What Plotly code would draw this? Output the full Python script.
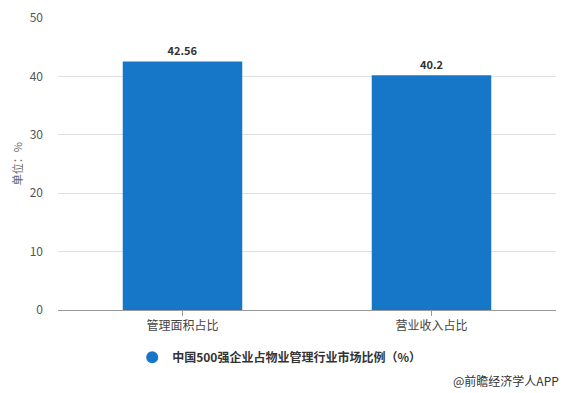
import plotly.graph_objects as go

categories = ["管理面积占比", "营业收入占比"]
values = [42.56, 40.2]
series_name = "中国500强企业占物业管理行业市场比例（%）"
y_title = "单位：%"
source_text = "@前瞻经济学人APP"

BLUE = "#1677c8"
FONT = "Noto Sans CJK SC, Microsoft YaHei, sans-serif"

fig = go.Figure()
fig.add_trace(go.Bar(
    x=categories, y=values, width=0.48,
    marker=dict(color=BLUE, line=dict(width=0)),
    text=[str(v) for v in values], textposition="outside",
    textfont=dict(family=FONT, size=11, color="#333333", weight="bold"),
    cliponaxis=False, showlegend=False,
))
fig.add_trace(go.Scatter(
    x=[None], y=[None], mode="markers", name=series_name,
    marker=dict(symbol="circle", size=12, color=BLUE), showlegend=True,
))

fig.update_layout(
    width=559, height=385,
    margin=dict(l=50, r=11, t=10, b=83, autoexpand=False),
    paper_bgcolor="white", plot_bgcolor="white",
    font=dict(family=FONT, size=12, color="#555555"),
    bargap=0.52,
    legend=dict(orientation="h", x=0.149, y=-0.162, xanchor="left", yanchor="middle",
                font=dict(family=FONT, size=12, color="#333333", weight="bold"),
                itemsizing="constant"),
    xaxis=dict(showline=True, linecolor="#999999", linewidth=1,
               ticks="outside", ticklen=5, tickcolor="#999999",
               tickfont=dict(size=12, color="#444444"), showgrid=False),
    yaxis=dict(range=[0, 50], dtick=10, showgrid=True, gridcolor="#e0e0e0",
               zeroline=False, ticks="", ticklabelstandoff=14,
               tickfont=dict(size=12, color="#555555")),
    annotations=[
        dict(text=source_text, xref="paper", yref="paper",
             x=1.01, y=-0.243, xanchor="right", yanchor="middle",
             showarrow=False, font=dict(family=FONT, size=12, color="#333333")),
        dict(text=y_title, xref="paper", yref="paper", textangle=-90,
             x=-0.082, y=0.5, xanchor="center", yanchor="middle",
             showarrow=False, font=dict(family=FONT, size=11, color="#666666")),
    ],
)

fig.write_html("out.html")
